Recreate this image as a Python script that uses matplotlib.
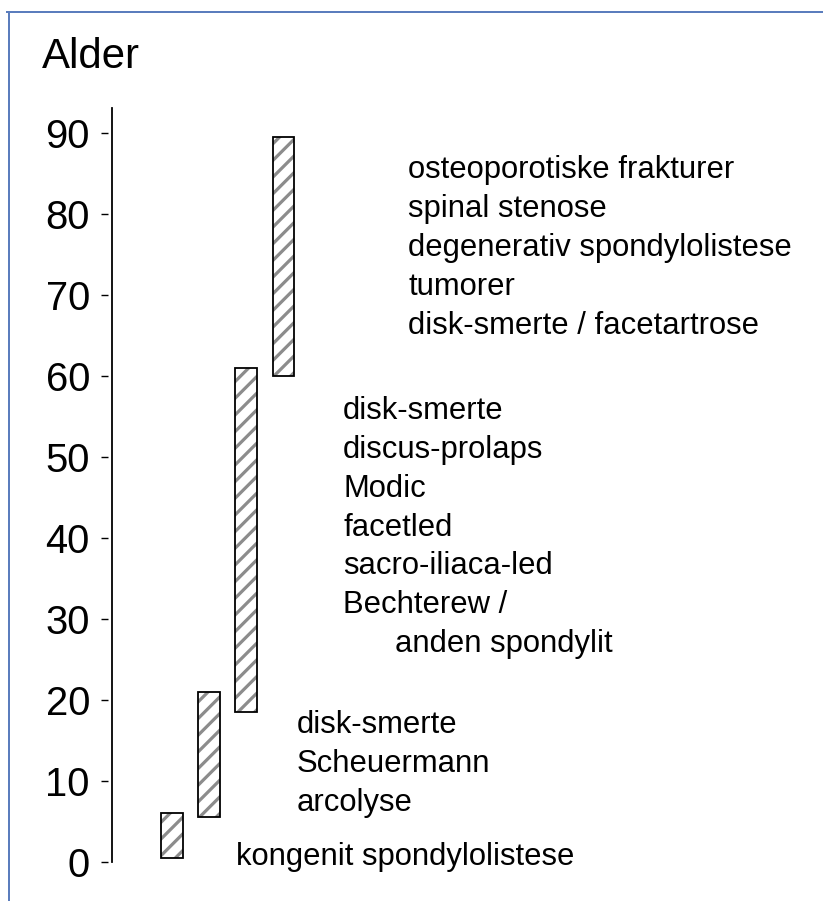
import matplotlib.pyplot as plt
from matplotlib.lines import Line2D

W, H = 823, 901
DPI = 100
PT = 72 / DPI  # pixels -> points

plt.rcParams['font.family'] = ['Liberation Sans', 'DejaVu Sans']
plt.rcParams['hatch.linewidth'] = 3.2 * PT

# alder-intervaller (fra, til) for hver gruppe
age_from = [0.5, 5.5, 18.5, 60]
age_to = [6, 21, 61, 89.5]

labels_0 = ['kongenit spondylolistese']
labels_1 = ['disk-smerte', 'Scheuermann', 'arcolyse']
labels_2 = ['disk-smerte', 'discus-prolaps', 'Modic', 'facetled',
            'sacro-iliaca-led', 'Bechterew /', 'anden spondylit']
labels_3 = ['osteoporotiske frakturer', 'spinal stenose',
            'degenerativ spondylolistese', 'tumorer',
            'disk-smerte / facetartrose']
yticks = [0, 10, 20, 30, 40, 50, 60, 70, 80, 90]

fig = plt.figure(figsize=(W / DPI, H / DPI), dpi=DPI)
ax = fig.add_axes([108 / W, 39 / H, 1 - 108 / W, 754 / H])

pos = range(len(age_from))
heights = [b - a for a, b in zip(age_from, age_to)]
# grå skravering først, sort kant ovenpå
ax.bar(pos, heights, bottom=age_from, width=0.57, color='white',
       edgecolor='#8c8c8c', linewidth=0, hatch='//', zorder=2)
ax.bar(pos, heights, bottom=age_from, width=0.57, fill=False,
       edgecolor='black', linewidth=1.8 * PT, zorder=3)

ax.set_xlim(-1.73, 17.59)
ax.set_ylim(0, 93.1)

for s in ax.spines.values():
    s.set_visible(False)
ax.set_xticks([])
ax.set_yticks(yticks)
ax.set_yticklabels([str(v) for v in yticks])
ax.tick_params(axis='y', length=7 * PT, width=1.4 * PT, pad=11 * PT,
               labelsize=40 * PT)
# aksen selv sidder lidt til højre for tick-stregerne
ax.plot([-1.62, -1.62], [0, 93.1], color='black', lw=1.8 * PT, clip_on=False)

groups = [(labels_0, 1.73, -0.4), (labels_1, 3.38, 15.9),
          (labels_2, 4.62, 54.7), (labels_3, 6.38, 84.4)]
step = 4.8
for lines, x0, y0 in groups:
    for i, t in enumerate(lines):
        x = x0
        if t == 'anden spondylit':
            x = x0 + 1.41
        ax.text(x, y0 - i * step, t, fontsize=31 * PT, va='baseline',
                ha='left', clip_on=False)

fig.text(42 / W, 1 - 68 / H, 'Alder', fontsize=42 * PT, va='baseline',
         ha='left')

# blå ramme (venstre og top)
frame = '#5b7dbd'
fig.add_artist(Line2D([8.5 / W, 8.5 / W], [0, 1 - 11.5 / H], color=frame,
                      lw=2 * PT, transform=fig.transFigure))
fig.add_artist(Line2D([7.5 / W, 1], [1 - 11.5 / H, 1 - 11.5 / H], color=frame,
                      lw=2 * PT, transform=fig.transFigure))

fig.savefig('out.png', dpi=DPI, facecolor='white')
